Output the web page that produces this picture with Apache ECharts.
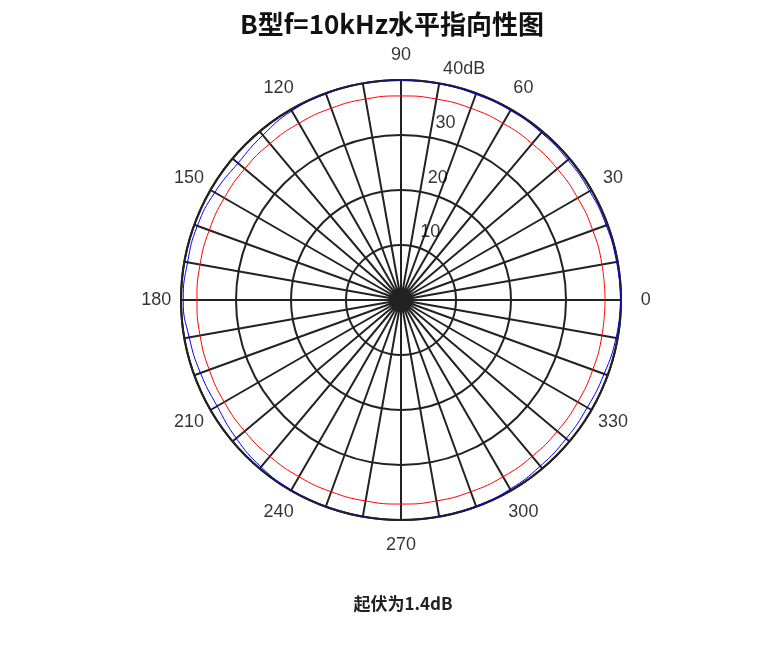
<!DOCTYPE html>
<html>
<head>
<meta charset="utf-8">
<script src="https://cdn.jsdelivr.net/npm/echarts@6/dist/echarts.min.js"></script>
<style>
html, body { margin: 0; padding: 0; background: #fff; }
#main { width: 759px; height: 662px; }
</style>
</head>
<body>
<div id="main"></div>
<script>
// 角度 (度)
const angles = [0, 10, 20, 30, 40, 50, 60, 70, 80, 90, 100, 110, 120, 130, 140, 150, 160, 170,
    180, 190, 200, 210, 220, 230, 240, 250, 260, 270, 280, 290, 300, 310, 320, 330, 340, 350, 360];
// 实测 (dB)
const blueValues = [40.0, 39.8, 39.7, 39.6, 39.6, 39.7, 39.8, 39.8, 39.9, 40.0, 40.0, 39.9, 39.7, 39.1, 38.7, 39.1, 39.4, 39.4,
    39.6, 39.1, 38.8, 38.6, 39.1, 39.6, 39.9, 40.0, 40.0, 40.0, 40.0, 39.9, 39.7, 39.4, 39.2, 39.1, 39.3, 39.7, 40.0];
// 参考线 (dB)
const redValues = [37.1, 37.1, 37.1, 37.1, 37.1, 37.1, 37.1, 37.1, 37.1, 37.1, 37.1, 37.1, 37.1, 37.1, 37.1, 37.1, 37.1, 37.1,
    37.1, 37.1, 37.1, 37.1, 37.1, 37.1, 37.1, 37.1, 37.1, 37.1, 37.1, 37.1, 37.1, 37.1, 37.1, 37.1, 37.1, 37.1, 37.1];
const angleTicks = [0, 30, 60, 90, 120, 150, 180, 210, 240, 270, 300, 330];
const radiusTicks = [10, 20, 30, 40];
const radiusLabels = ['10', '20', '30', '40dB'];

const gridColor = '#222';
const labelFont = '"Liberation Sans"';

let chart = echarts.init(document.getElementById('main'));
chart.setOption({
    animation: false,
    title: [{
        text: 'B型f=10kHz水平指向性图',
        left: 387,
        textAlign: 'center',
        top: 6,
        textStyle: { fontSize: 26, fontWeight: 'bold', color: '#111', fontFamily: '"Noto Sans CJK SC", sans-serif' }
    }, {
        text: '起伏为1.4dB',
        left: 398,
        textAlign: 'center',
        top: 590,
        textStyle: { fontSize: 17, fontWeight: 'bold', color: '#222', fontFamily: '"Noto Sans CJK SC", sans-serif' }
    }],
    polar: {
        center: [401, 300],
        radius: 220
    },
    angleAxis: {
        type: 'value',
        min: 0,
        max: 360,
        interval: 10,
        startAngle: 0,
        clockwise: false,
        axisLine: { lineStyle: { color: gridColor, width: 2 } },
        axisTick: { show: false },
        axisLabel: { show: false },
        splitLine: { show: true, lineStyle: { color: gridColor, width: 2 } }
    },
    radiusAxis: {
        type: 'value',
        min: 0,
        max: 40,
        interval: 10,
        axisLine: { show: false },
        axisTick: { show: false },
        axisLabel: { show: false },
        splitLine: { show: true, lineStyle: { color: gridColor, width: 2 } }
    },
    series: [{
        type: 'line',
        coordinateSystem: 'polar',
        data: angles.map((a, i) => [redValues[i], a]),
        symbol: 'none',
        smooth: true,
        lineStyle: { color: '#ff0000', width: 1 },
        z: 3
    }, {
        type: 'line',
        coordinateSystem: 'polar',
        data: angles.map((a, i) => [blueValues[i], a]),
        symbol: 'none',
        smooth: true,
        lineStyle: { color: '#0000ff', width: 1 },
        z: 4
    }, {
        // 半径刻度标签
        type: 'scatter',
        coordinateSystem: 'polar',
        data: radiusTicks.map(r => [r, 82]),
        symbolSize: 1,
        clip: false,
        silent: true,
        itemStyle: { color: 'rgba(0,0,0,0)' },
        label: {
            show: true,
            position: [12, -13],
            align: 'left',
            verticalAlign: 'middle',
            formatter: p => radiusLabels[p.dataIndex],
            fontSize: 18,
            color: '#000',
            fontFamily: labelFont
        },
        z: 5
    }, {
        // 角度标签
        type: 'scatter',
        coordinateSystem: 'polar',
        data: angleTicks.map(a => [44.5, a]),
        symbolSize: 1,
        clip: false,
        silent: true,
        itemStyle: { color: 'rgba(0,0,0,0)' },
        label: {
            show: true,
            position: 'inside',
            align: 'center',
            verticalAlign: 'middle',
            formatter: p => String(angleTicks[p.dataIndex]),
            fontSize: 18,
            color: '#000',
            fontFamily: labelFont
        },
        z: 5
    }]
});
</script>
</body>
</html>
